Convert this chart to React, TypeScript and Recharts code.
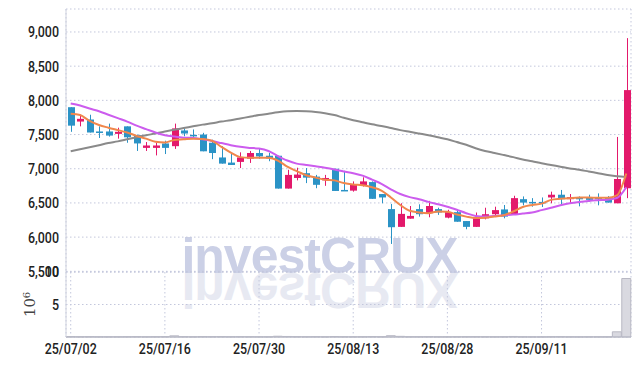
import React from 'react';
import {
  ComposedChart,
  Bar,
  Line,
  XAxis,
  YAxis,
  CartesianGrid,
  ReferenceArea,
} from 'recharts';

// trading days, 2025-07-02 .. 2025-09-24
const dates = [
  '25/07/02', '25/07/03', '25/07/04', '25/07/07', '25/07/08', '25/07/09', '25/07/10', '25/07/11',
  '25/07/14', '25/07/15', '25/07/16', '25/07/17', '25/07/18', '25/07/21', '25/07/22', '25/07/23',
  '25/07/24', '25/07/25', '25/07/28', '25/07/29', '25/07/30', '25/07/31', '25/08/01', '25/08/04',
  '25/08/05', '25/08/06', '25/08/07', '25/08/08', '25/08/11', '25/08/12', '25/08/13', '25/08/14',
  '25/08/18', '25/08/19', '25/08/20', '25/08/21', '25/08/22', '25/08/25', '25/08/26', '25/08/27',
  '25/08/28', '25/08/29', '25/09/01', '25/09/02', '25/09/03', '25/09/04', '25/09/05', '25/09/08',
  '25/09/09', '25/09/10', '25/09/11', '25/09/12', '25/09/15', '25/09/16', '25/09/17', '25/09/18',
  '25/09/19', '25/09/22', '25/09/23', '25/09/24',
];

const open = [
  7900, 7690, 7720, 7545, 7545, 7510, 7620, 7490, 7305, 7305, 7370, 7330, 7560, 7495, 7500, 7380,
  7165, 7090, 7100, 7147, 7230, 7190, 7190, 6710, 6865, 6935, 6885, 6830, 7000, 6690, 6680, 6755,
  6805, 6630, 6410, 6150, 6270, 6410, 6350, 6410, 6285, 6365, 6235, 6150, 6275, 6335, 6405, 6335,
  6555, 6515, 6515, 6580, 6620, 6555, 6575, 6585, 6575, 6585, 6495, 6715,
];
const high = [
  7900, 7790, 7790, 7620, 7660, 7600, 7620, 7500, 7390, 7380, 7410, 7660, 7590, 7575, 7525, 7425,
  7330, 7220, 7240, 7260, 7290, 7230, 7190, 6985, 7015, 7010, 6910, 6910, 7000, 6970, 6815, 6875,
  6815, 6630, 6485, 6495, 6455, 6480, 6530, 6430, 6400, 6400, 6235, 6360, 6430, 6445, 6470, 6605,
  6595, 6570, 6580, 6665, 6690, 6630, 6595, 6620, 6640, 6600, 7465, 8910,
];
const low = [
  7540, 7620, 7530, 7450, 7470, 7440, 7380, 7260, 7260, 7195, 7215, 7290, 7475, 7465, 7255, 7140,
  7075, 7055, 7010, 7085, 7145, 7110, 6710, 6710, 6830, 6790, 6715, 6750, 6675, 6675, 6665, 6740,
  6560, 6495, 5900, 6150, 6270, 6300, 6290, 6325, 6275, 6225, 6115, 6150, 6260, 6300, 6275, 6335,
  6465, 6445, 6440, 6495, 6470, 6495, 6450, 6520, 6465, 6505, 6495, 6570,
];
const close = [
  7630, 7730, 7530, 7535, 7485, 7540, 7460, 7370, 7340, 7340, 7305, 7590, 7515, 7485, 7255, 7230,
  7075, 7055, 7165, 7230, 7180, 7150, 6710, 6910, 6915, 6870, 6765, 6865, 6675, 6680, 6765, 6815,
  6560, 6580, 6145, 6340, 6310, 6335, 6455, 6360, 6365, 6225, 6150, 6275, 6335, 6395, 6300, 6570,
  6505, 6505, 6495, 6620, 6555, 6585, 6570, 6545, 6560, 6505, 6850, 8150,
];

// moving averages as drawn (orange, purple, grey)
const ma5 = [
  7805, 7785, 7700, 7640, 7600, 7565, 7530, 7480, 7440, 7395, 7385, 7420, 7430, 7440, 7435, 7410,
  7320, 7235, 7170, 7160, 7160, 7160, 7120, 7030, 6965, 6905, 6870, 6840, 6830, 6790, 6770, 6760,
  6730, 6680, 6580, 6470, 6385, 6360, 6350, 6375, 6370, 6330, 6300, 6280, 6285, 6300, 6320, 6375,
  6440, 6470, 6490, 6545, 6560, 6570, 6578, 6580, 6575, 6575, 6610, 6930,
];
const ma20 = [
  7955, 7925, 7880, 7840, 7790, 7740, 7690, 7630, 7580, 7530, 7490, 7470, 7455, 7450, 7430, 7405,
  7375, 7345, 7320, 7305, 7295, 7260, 7185, 7120, 7075, 7055, 7035, 7015, 6990, 6960, 6935, 6900,
  6840, 6780, 6700, 6630, 6585, 6555, 6515, 6480, 6445, 6400, 6350, 6310, 6300, 6310, 6320, 6330,
  6345, 6360, 6395, 6430, 6465, 6495, 6515, 6530, 6540, 6548, 6572, 6730,
];
const ma120 = [
  7255, 7285, 7315, 7345, 7375, 7400, 7430, 7460, 7490, 7515, 7545, 7570, 7595, 7620, 7645, 7665,
  7690, 7710, 7735, 7760, 7785, 7805, 7825, 7840, 7845, 7840, 7830, 7812, 7785, 7745, 7710, 7680,
  7650, 7625, 7595, 7565, 7540, 7515, 7490, 7460, 7430, 7390, 7350, 7300, 7260, 7230, 7200, 7170,
  7135, 7110, 7080, 7055, 7030, 7005, 6985, 6960, 6935, 6910, 6890, 6880,
];

// volume, millions of shares
const volume = [
  0.06, 0.04, 0.05, 0.03, 0.03, 0.03, 0.04, 0.05, 0.03, 0.04, 0.05, 0.18, 0.05, 0.03, 0.06, 0.05,
  0.06, 0.04, 0.05, 0.04, 0.03, 0.03, 0.12, 0.08, 0.05, 0.04, 0.05, 0.03, 0.07, 0.04, 0.03, 0.04,
  0.06, 0.04, 0.2, 0.1, 0.04, 0.04, 0.05, 0.03, 0.03, 0.04, 0.05, 0.05, 0.04, 0.03, 0.04, 0.08,
  0.03, 0.02, 0.02, 0.04, 0.05, 0.03, 0.02, 0.03, 0.03, 0.03, 0.8, 9.0,
];

const priceTicks = [5500, 6000, 6500, 7000, 7500, 8000, 8500, 9000];
const volumeTicks = [5, 10];
const dateTicks = ['25/07/02', '25/07/16', '25/07/30', '25/08/13', '25/08/28', '25/09/11'];

const UP = '#e3196b';
const DOWN = '#2b93c6';
const GRID = '#c3c7dc';
const FRAME = '#cfd2de';

// condensed look: Roboto squeezed horizontally
function AxisTick(props: any) {
  const { x, y, payload, textAnchor, tickFormatter, shift } = props;
  const label = tickFormatter ? tickFormatter(payload.value) : payload.value;
  return (
    <text
      transform={`translate(${x},${y}) scale(0.83,1)`}
      textAnchor={textAnchor}
      dy={shift}
      fontFamily="Roboto, 'DejaVu Sans', sans-serif"
      fontWeight={500}
      fontSize={15}
      fill="#222"
    >
      {label}
    </text>
  );
}

const rows = dates.map((date, i) => ({
  date,
  open: open[i],
  high: high[i],
  low: low[i],
  close: close[i],
  ma5: ma5[i],
  ma20: ma20[i],
  ma120: ma120[i],
  volume: volume[i],
}));

function Candle(props: any) {
  const { x, y, width, height, payload } = props;
  const { open: o, close: c, high: h, low: l } = payload;
  const k = h > l ? height / (h - l) : 0;
  const cx = Math.round(x + width / 2) + 0.5;
  const yo = y + (h - o) * k;
  const yc = y + (h - c) * k;
  const color = c > o ? UP : DOWN;
  const top = Math.min(yo, yc);
  const bh = Math.max(Math.abs(yo - yc), 1.5);
  return (
    <g>
      <line x1={cx} x2={cx} y1={y} y2={y + height} stroke={color} strokeWidth={1} />
      <rect x={cx - 3.5} y={top} width={7} height={bh} fill={color} />
    </g>
  );
}

const watermark: React.CSSProperties = {
  position: 'absolute',
  left: 0,
  top: 231,
  width: 639,
  textAlign: 'center',
  fontFamily: "'Liberation Sans', Arial, sans-serif",
  fontWeight: 700,
  fontSize: 50,
  lineHeight: '50px',
  letterSpacing: -1,
  whiteSpace: 'nowrap',
};

export default function App() {
  return (
    <div style={{ position: 'absolute', left: 0, top: 0, width: 639, height: 366, background: '#fff' }}>
      <div style={{ ...watermark, color: '#cbd0e6' }}>investCRUX</div>
      <div
        style={{
          ...watermark,
          color: '#e7e9f2',
          transform: 'scaleY(-1)',
          transformOrigin: 'center 42px',
        }}
      >
        investCRUX
      </div>

      <div style={{ position: 'absolute', left: 0, top: 0 }}>
        <ComposedChart
          width={639}
          height={282}
          data={rows}
          margin={{ top: 9, right: 8, bottom: 10, left: 0 }}
        >
          <CartesianGrid stroke={GRID} strokeDasharray="1.5 2.5" />
          <XAxis
            dataKey="date"
            ticks={dateTicks}
            interval={0}
            tick={false}
            tickLine={false}
            height={0}
            axisLine={{ stroke: '#9a9db4' }}
          />
          <YAxis
            domain={[5490, 9336]}
            ticks={priceTicks}
            allowDataOverflow
            width={66}
            tickSize={0}
            tickMargin={7}
            tick={<AxisTick shift="0.36em" />}
            axisLine={{ stroke: FRAME }}
            tickFormatter={(v: number) => v.toLocaleString('en-US')}
          />
          <ReferenceArea fill="none" stroke={FRAME} ifOverflow="visible" />
          <Line type="monotone" dataKey="ma120" stroke="#8a8a8a" strokeWidth={2} dot={false} isAnimationActive={false} />
          <Line type="monotone" dataKey="ma20" stroke="#cc5cee" strokeWidth={2} dot={false} isAnimationActive={false} />
          <Bar
            dataKey={(d: any) => [d.low, d.high]}
            shape={<Candle />}
            isAnimationActive={false}
          />
          <Line type="monotone" dataKey="ma5" stroke="#f0874c" strokeWidth={2} dot={false} isAnimationActive={false} />
        </ComposedChart>
      </div>

      <div style={{ position: 'absolute', left: 0, top: 262 }}>
        <ComposedChart
          width={639}
          height={104}
          data={rows}
          margin={{ top: 10, right: 8, bottom: 0, left: 0 }}
          barCategoryGap="2%"
        >
          <CartesianGrid stroke={GRID} strokeDasharray="1.5 2.5" />
          <XAxis
            dataKey="date"
            ticks={dateTicks}
            interval={0}
            height={29}
            tickSize={0}
            tickMargin={6}
            tick={<AxisTick shift="0.71em" />}
            axisLine={{ stroke: '#b4b6c4' }}
          />
          <YAxis
            domain={[0, 10]}
            ticks={volumeTicks}
            width={66}
            tickSize={0}
            tickMargin={7}
            tick={<AxisTick shift="0.36em" />}
            axisLine={{ stroke: FRAME }}
            label={{
              value: '10⁶',
              angle: -90,
              position: 'center',
              dx: -3,
              style: { fontFamily: "'DejaVu Serif', serif", fontSize: 15, fill: '#444' },
            }}
          />
          <ReferenceArea fill="none" stroke={FRAME} ifOverflow="visible" />
          <Bar dataKey="volume" fill="#d9d9e0" stroke="#b9b9c4" isAnimationActive={false} />
        </ComposedChart>
      </div>
    </div>
  );
}
